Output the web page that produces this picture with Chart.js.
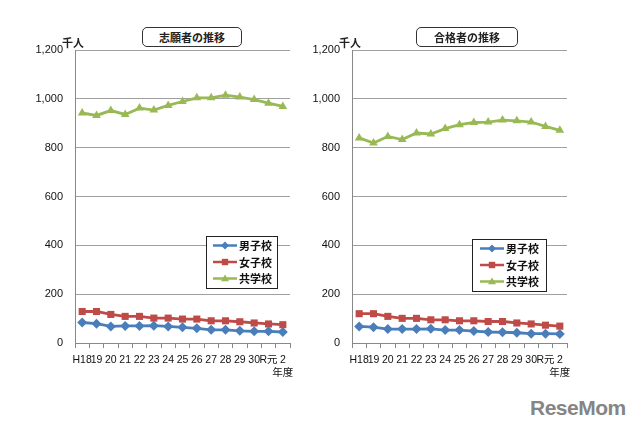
<!DOCTYPE html>
<html>
<head>
<meta charset="utf-8">
<script src="https://cdn.jsdelivr.net/npm/chart.js@4.4.0/dist/chart.umd.min.js"></script>
<style>
  body { margin: 0; background: #fff; width: 640px; height: 432px; position: relative; overflow: hidden;
         font-family: 'Noto Sans CJK JP', sans-serif; }
  .wrap { position: absolute; top: 0; width: 320px; height: 390px; }
  .ttl { position: absolute; top: 27px; height: 18px; border: 1px solid #333; border-radius: 5px;
         font-size: 11px; font-weight: bold; color: #222; text-align: center; line-height: 18px; background: #fff; }
  .unit { position: absolute; top: 34px; font-size: 11px; font-weight: bold; color: #222; }
  .logo { position: absolute; left: 530px; top: 396px; font: bold 21px 'Liberation Sans', sans-serif; color: #858585; letter-spacing: -0.5px; }
</style>
</head>
<body>
<div class="wrap" style="left:0"><canvas id="c1" width="320" height="390"></canvas></div>
<div class="wrap" style="left:277px"><canvas id="c2" width="320" height="390"></canvas></div>
<div class="ttl" style="left:142px;width:98px">志願者の推移</div>
<div class="ttl" style="left:416px;width:100px">合格者の推移</div>
<div class="unit" style="left:62px">千人</div>
<div class="unit" style="left:339px">千人</div>
<div class="logo">ReseMom</div>

<script>
// 年度
const years = ['H18', '19', '20', '21', '22', '23', '24', '25', '26', '27', '28', '29', '30', 'R元', ['2', '年度']];
const seriesNames = ['男子校', '女子校', '共学校'];

// 志願者 (千人)
const applyBoys = [84, 79, 68, 70, 70, 71, 68, 64, 60, 54, 54, 50, 48, 48, 45];
const applyGirls = [129, 129, 117, 109, 109, 102, 102, 98, 98, 91, 91, 87, 82, 78, 75];
const applyCoed = [942, 932, 952, 936, 962, 954, 973, 989, 1004, 1004, 1015, 1007, 997, 982, 969];

// 合格者 (千人)
const passBoys = [68, 65, 57, 57, 57, 58, 53, 53, 49, 45, 44, 42, 38, 38, 37];
const passGirls = [120, 120, 109, 101, 101, 95, 95, 91, 91, 88, 88, 82, 78, 73, 69];
const passCoed = [840, 819, 846, 833, 860, 856, 878, 894, 903, 905, 913, 910, 905, 887, 871];

const colors = ['#4a7ebb', '#be4b48', '#98b954'];
const markers = ['rectRot', 'rect', 'triangle'];

function drawMarker(ctx, style, x, y, r, color) {
  ctx.fillStyle = color;
  ctx.beginPath();
  if (style === 'rectRot') {
    ctx.moveTo(x, y - r); ctx.lineTo(x + r, y); ctx.lineTo(x, y + r); ctx.lineTo(x - r, y);
  } else if (style === 'rect') {
    ctx.rect(x - r * 0.8, y - r * 0.8, r * 1.6, r * 1.6);
  } else {
    ctx.moveTo(x, y - r); ctx.lineTo(x + r, y + r * 0.7); ctx.lineTo(x - r, y + r * 0.7);
  }
  ctx.closePath();
  ctx.fill();
}

// legend box drawn inside the plot area
const boxLegend = {
  id: 'boxLegend',
  afterDraw(chart, args, opts) {
    const ctx = chart.ctx;
    const a = chart.chartArea;
    const x = a.left + opts.dx, y = a.top + opts.dy;
    ctx.save();
    ctx.fillStyle = '#fff';
    ctx.fillRect(x, y, opts.w, opts.h);
    ctx.strokeStyle = '#222';
    ctx.lineWidth = 1;
    ctx.strokeRect(x + 0.5, y + 0.5, opts.w, opts.h);
    chart.data.datasets.forEach((ds, i) => {
      const cy = y + 9.5 + i * 16.5;
      ctx.strokeStyle = ds.borderColor;
      ctx.lineWidth = 2.5;
      ctx.beginPath();
      ctx.moveTo(x + opts.lx, cy);
      ctx.lineTo(x + opts.lx + 24, cy);
      ctx.stroke();
      drawMarker(ctx, ds.pointStyle, x + opts.lx + 12, cy, 4, ds.borderColor);
      ctx.fillStyle = '#111';
      ctx.font = "bold 11px 'Noto Sans CJK JP'";
      ctx.textBaseline = 'middle';
      ctx.fillText(ds.label, x + opts.lx + 26, cy + 0.5);
    });
    ctx.restore();
  }
};

function makeChart(id, values, legendPos) {
  const ctx = document.getElementById(id).getContext('2d');
  const datasets = values.map((v, i) => {
    return {
      label: seriesNames[i],
      data: v,
      borderColor: colors[i],
      backgroundColor: colors[i],
      borderWidth: 2.8,
      pointStyle: markers[i],
      pointRadius: 5,
      pointBorderWidth: 0,
      tension: 0
    };
  });

  new Chart(ctx, {
    type: 'line',
    data: { labels: years, datasets: datasets },
    options: {
      responsive: false,
      animation: false,
      locale: 'en-US',
      layout: { padding: { top: 50, right: 30, left: 0, bottom: 0 } },
      plugins: {
        legend: { display: false },
        tooltip: { enabled: false },
        boxLegend: legendPos
      },
      scales: {
        x: {
          offset: true,
          grid: { offset: true, drawOnChartArea: false, drawTicks: true, tickLength: 5, color: '#888' },
          border: { color: '#888' },
          ticks: {
            autoSkip: false, maxRotation: 0, padding: 6, color: '#111',
            font: { family: "'Liberation Sans', 'Noto Sans CJK JP'", size: 10.5, lineHeight: 1.2 }
          },
          afterFit: (s) => { s.height = 47; }
        },
        y: {
          min: 0, max: 1200,
          ticks: {
            stepSize: 200, padding: 12, color: '#111',
            font: { family: "'Liberation Sans'", size: 11 }
          },
          grid: { drawTicks: false, color: '#a0a0a0' },
          border: { color: '#888' },
          afterFit: (s) => { s.width = 75; }
        }
      }
    },
    plugins: [boxLegend]
  });
}

makeChart('c1', [applyBoys, applyGirls, applyCoed], { dx: 131, dy: 186, w: 71, h: 52, lx: 7 });
makeChart('c2', [passBoys, passGirls, passCoed], { dx: 120, dy: 189, w: 74, h: 52, lx: 8 });
</script>
</body>
</html>
